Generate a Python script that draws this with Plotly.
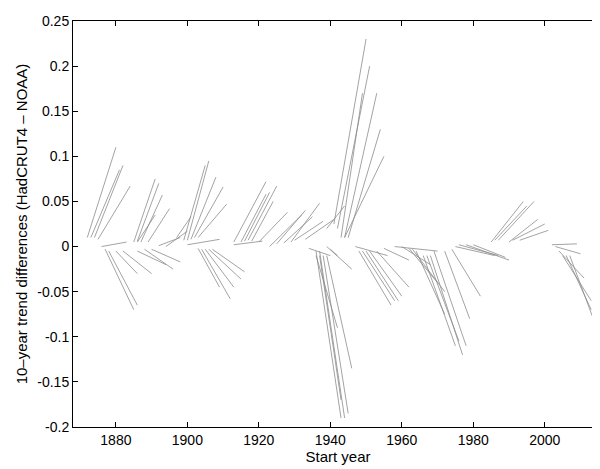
import plotly.graph_objects as go

x0 = [1872,1873,1874,1875,1877,1878,1880,1882,1876,
      1885,1886,1887,1889,1886,1888,1890,1886,1892,1894,
      1899,1900,1901,1902,1903,1897,1903,1904,1905,1906,1907,1900,
      1913,1915,1916,1917,1918,1920,1913,
      1923,1925,1927,1929,1930,1933,
      1934,1936,1937,1938,1937,1939,1936,1939,1940,
      1941,1942,1943,1944,1945,1944,1939,
      1947,1948,1949,1950,1951,1953,1955,
      1958,1960,1962,1963,1964,1966,1967,1968,1969,1972,1974,
      1976,1978,1980,1975,
      1985,1986,1987,1990,1991,1993,
      2002,2003,2004,2005,2006,2007]
y0 = [0.01,0.01,0.01,0.008,-0.003,-0.005,-0.005,-0.005,0,
      0.005,0.006,0.005,0.005,0.005,-0.003,-0.003,-0.005,0.001,0,
      0.007,0.007,0.008,0.01,0.01,0.01,-0.002,-0.003,-0.003,-0.003,-0.003,0.002,
      0.005,0.005,0.006,0.007,0.006,0.005,0.002,
      0,0.003,0.004,0.005,0.007,0.008,
      -0.002,-0.005,-0.005,-0.01,-0.01,-0.01,-0.01,0,-0.003,
      0.025,0.02,0.01,0.01,0.01,0.01,0.02,
      0,-0.005,-0.005,-0.005,-0.005,-0.005,-0.002,
      0,0,-0.002,-0.003,-0.005,-0.01,-0.01,-0.01,-0.005,-0.005,-0.003,
      0.002,0.002,0.002,0,
      0.005,0.007,0.007,0.005,0.007,0.007,
      0.002,0,-0.005,-0.01,-0.01,-0.01]
x1 = [1880,1881,1882,1884,1885,1886,1886,1890,1883,
      1891,1892,1893,1895,1891,1896,1898,1894,1898,1900,
      1905,1906,1908,1910,1911,1901,1909,1912,1913,1915,1916,1909,
      1922,1922,1923,1925,1924,1928,1921,
      1932,1933,1935,1937,1938,1941,
      1940,1943,1944,1945,1943,1946,1942,1946,1942,
      1950,1951,1949,1953,1954,1955,1944,
      1956,1957,1958,1959,1960,1962,1962,
      1970,1968,1970,1972,1972,1975,1976,1977,1978,1979,1982,
      1987,1990,1989,1986,
      1994,1995,1997,1998,2000,2001,
      2009,2010,2011,2013,2013,2015]
y1 = [0.11,0.085,0.09,0.067,-0.07,-0.065,-0.03,-0.03,0.005,
      0.075,0.07,0.057,0.042,0.035,-0.025,-0.017,-0.02,0.01,0.017,
      0.09,0.095,0.077,0.066,0.047,0.033,-0.045,-0.058,-0.045,-0.036,-0.028,0.008,
      0.072,0.058,0.06,0.067,0.05,0.038,0.006,
      0.035,0.04,0.033,0.048,0.028,0.03,
      -0.01,-0.19,-0.19,-0.185,-0.17,-0.135,-0.09,-0.025,-0.01,
      0.23,0.2,0.17,0.17,0.13,0.1,0.045,
      -0.01,-0.065,-0.06,-0.06,-0.055,-0.045,-0.015,
      -0.005,-0.02,-0.04,-0.05,-0.075,-0.11,-0.105,-0.12,-0.11,-0.08,-0.055,
      -0.01,-0.015,-0.012,-0.01,
      0.05,0.045,0.05,0.03,0.025,0.018,
      0.003,-0.008,-0.035,-0.06,-0.07,-0.095]

y_ticks = [-0.2, -0.15, -0.1, -0.05, 0, 0.05, 0.1, 0.15, 0.2, 0.25]
y_labels = ["-0.2", "-0.15", "-0.1", "-0.05", "0", "0.05", "0.1", "0.15", "0.2", "0.25"]
x_ticks = [1880, 1900, 1920, 1940, 1960, 1980, 2000]

xs, ys = [], []
for a, b, c, d in zip(x0, y0, x1, y1):
    xs += [a, c, None]
    ys += [b, d, None]

fig = go.Figure(go.Scatter(x=xs, y=ys, mode="lines",
                           line=dict(color="#8c8c8c", width=0.8),
                           hoverinfo="skip", showlegend=False))
axis_common = dict(showline=True, mirror="ticks", linecolor="black", linewidth=1,
                   ticks="inside", ticklen=5, tickcolor="black", showgrid=False,
                   zeroline=False, tickfont=dict(family="Liberation Sans", size=14, color="black"))
fig.update_xaxes(range=[1868, 2016.3], tickvals=x_ticks,
                 title=dict(text="Start year", standoff=2,
                            font=dict(family="Liberation Sans", size=15, color="black")),
                 **axis_common)
fig.update_yaxes(range=[-0.2, 0.25], tickvals=y_ticks, ticktext=y_labels,
                 title=dict(text="10\u2013year trend differences (HadCRUT4 \u2013 NOAA)", standoff=6,
                            font=dict(family="Liberation Sans", size=15, color="black")),
                 **axis_common)
fig.update_layout(width=600, height=469, plot_bgcolor="white", paper_bgcolor="white",
                  margin=dict(l=65, r=5, t=13, b=50))
fig.write_html("out.html")
